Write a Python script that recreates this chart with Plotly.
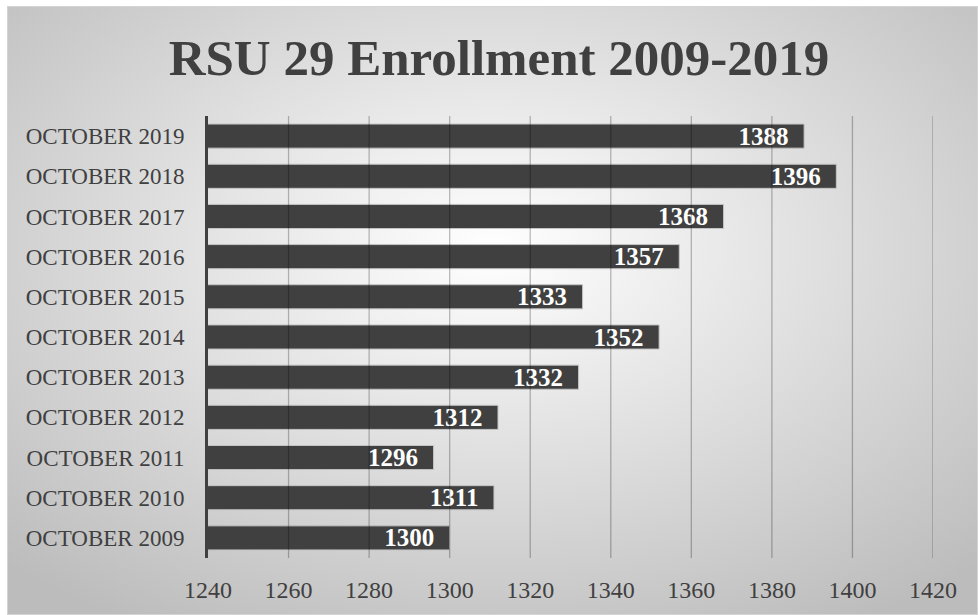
import base64
import plotly.graph_objects as go

categories = ["OCTOBER 2009", "OCTOBER 2010", "OCTOBER 2011", "OCTOBER 2012",
              "OCTOBER 2013", "OCTOBER 2014", "OCTOBER 2015", "OCTOBER 2016",
              "OCTOBER 2017", "OCTOBER 2018", "OCTOBER 2019"]
enrollment = [1300, 1311, 1296, 1312, 1332, 1352, 1333, 1357, 1368, 1396, 1388]
x_ticks = [1240, 1260, 1280, 1300, 1320, 1340, 1360, 1380, 1400, 1420]
title_text = "RSU 29 Enrollment 2009-2019"

W, H = 978, 615
L, R, T, B = 208, 45, 116, 57
pw, ph = W - L - R, H - T - B

svg = (
    '<svg xmlns="http://www.w3.org/2000/svg" width="971" height="609" viewBox="0 0 971 609" preserveAspectRatio="none">'
    '<defs><radialGradient id="g" cx="50%" cy="40%" r="72%" fx="50%" fy="40%">'
    '<stop offset="0%" stop-color="#ffffff"/><stop offset="100%" stop-color="#bcbcbc"/>'
    '</radialGradient></defs>'
    '<rect x="0" y="0" width="971" height="609" fill="url(#g)" stroke="#d4d4d4" stroke-width="2"/>'
    '</svg>'
)
src = "data:image/svg+xml;base64," + base64.b64encode(svg.encode()).decode()

fig = go.Figure()
fig.add_trace(go.Bar(
    y=categories, x=enrollment, orientation="h",
    marker=dict(color="#404040", line=dict(color="#c4c4c4", width=1)),
    texttemplate="%{x}\u00a0\u00a0", textposition="inside", insidetextanchor="end",
    constraintext="none",
    textfont=dict(family="Liberation Serif", size=25, color="white", weight="bold"),
    cliponaxis=False,
))

shapes = []
for v in x_ticks[1:]:
    shapes.append(dict(type="line", xref="x", yref="paper", x0=v, x1=v, y0=0, y1=1,
                       line=dict(color="rgba(0,0,0,0.26)", width=1.3), layer="above"))

fig.update_layout(
    width=W, height=H,
    margin=dict(l=L, r=R, t=T, b=B),
    paper_bgcolor="white", plot_bgcolor="rgba(0,0,0,0)",
    bargap=0.4, showlegend=False,
    uniformtext=dict(mode=False),
    title=dict(text=title_text, x=(499) / W, xanchor="center", y=1 - 57 / H, yanchor="middle",
               font=dict(family="Liberation Serif", size=51, color="#404040", weight="bold")),
    xaxis=dict(range=[1240, 1420], tickvals=x_ticks, showgrid=False, zeroline=False,
               ticks="outside", ticklen=10, tickcolor="rgba(0,0,0,0)",
               tickfont=dict(family="Liberation Serif", size=24, color="#404040")),
    yaxis=dict(showgrid=False, showline=True, linecolor="#404040", linewidth=3,
               ticks="outside", ticklen=16, tickcolor="rgba(0,0,0,0)",
               tickfont=dict(family="Liberation Serif", size=23, color="#404040")),
    shapes=shapes,
    images=[dict(source=src, xref="paper", yref="paper",
                 x=(7 - L) / pw, y=1 + (T - 6) / ph, sizex=971 / pw, sizey=609 / ph,
                 xanchor="left", yanchor="top", sizing="stretch", layer="below")],
)

fig.write_html("out.html")
